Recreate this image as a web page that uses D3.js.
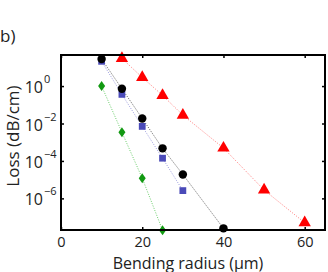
<!DOCTYPE html>
<html><head><meta charset="utf-8">
<script src="https://cdn.jsdelivr.net/npm/d3@7/dist/d3.min.js"></script>
<style>body{margin:0;background:#fff}svg{display:block}text{font-family:"Open Sans",sans-serif;fill:#222}</style>
</head><body><svg id="c" width="328" height="272"></svg>
<script>
const xTicks = [0, 20, 40, 60];
const yTicks = [-6, -4, -2, 0];
const blackX = [10, 15, 20, 25, 30, 40];
const blackY = [27.7, 0.72, 0.0187, 4.7e-4, 1.9e-5, 2.5e-8];
const blueX = [10, 15, 20, 25, 30];
const blueY = [21, 0.36, 7e-3, 1.4e-4, 2.6e-6];
const greenX = [10, 15, 20, 25];
const greenY = [1.0, 3.4e-3, 1.2e-5, 2e-8];
const redX = [15, 20, 25, 30, 40, 50, 60];
const redY = [30, 2.9, 0.32, 0.028, 4.9e-4, 2.8e-6, 5e-8];

const svg = d3.select("#c");
const L = 61, R = 325, T = 55, B = 230;
const x = d3.scaleLinear().domain([0, 65]).range([L, R]);
const y = d3.scaleLog().domain([Math.pow(10, -7.69), Math.pow(10, 1.66)]).range([B, T]);

const series = [
  {xs: redX, ys: redY, line: "#ff8080", fill: "#ff0000", shape: d3.symbolTriangle, size: 66},
  {xs: greenX, ys: greenY, line: "#66cc66", fill: "#119911", shape: "diamond", size: 0},
  {xs: blueX, ys: blueY, line: "#9999dd", fill: "#4a4ab8", shape: d3.symbolSquare, size: 46},
  {xs: blackX, ys: blackY, line: "#555555", fill: "#000000", shape: d3.symbolCircle, size: 56}
];

const plot = svg.append("g");
series.forEach(s => {
  const pts = s.xs.map((v, i) => [v, s.ys[i]]);
  plot.append("path").datum(pts)
    .attr("d", d3.line().x(d => x(d[0])).y(d => y(d[1])))
    .attr("fill", "none").attr("stroke", s.line).attr("stroke-width", 1)
    .attr("stroke-dasharray", "1,1.5");
});
series.forEach(s => {
  const pts = s.xs.map((v, i) => [v, s.ys[i]]);
  plot.selectAll(null).data(pts).enter().append("path")
    .attr("transform", d => `translate(${x(d[0])},${y(d[1])})`)
    .attr("d", s.shape === "diamond" ? "M0,-5L3.5,0L0,5L-3.5,0Z" : d3.symbol().type(s.shape).size(s.size)())
    .attr("fill", s.fill);
});

// axes box
const ax = svg.append("g");
const axB = d3.axisBottom(x).tickValues(xTicks).tickSize(-3).tickPadding(6.5).tickFormat(d3.format("d"));
const gB = ax.append("g").attr("transform", `translate(0,${B})`).call(axB);
const gT = ax.append("g").attr("transform", `translate(0,${T})`).call(d3.axisTop(x).tickValues(xTicks).tickSize(-3).tickFormat(""));
const yv = yTicks.map(e => Math.pow(10, e));
const gL = ax.append("g").attr("transform", `translate(${L},0)`).call(d3.axisLeft(y).tickValues(yv).tickSize(-3).tickFormat(""));
const gR = ax.append("g").attr("transform", `translate(${R},0)`).call(d3.axisRight(y).tickValues(yv).tickSize(-3).tickFormat(""));
[gB, gT, gL, gR].forEach(g => {
  g.select(".domain").remove();
  g.selectAll(".tick line").attr("stroke", "#000").attr("stroke-width", 1.5);
});
gB.selectAll(".tick text").attr("font-size", 14.5).attr("font-family", "Open Sans").attr("fill", "#222");
ax.append("rect").attr("x", L).attr("y", T).attr("width", R - L).attr("height", B - T)
  .attr("fill", "none").attr("stroke", "#000").attr("stroke-width", 2);

// y tick labels
yTicks.forEach(e => {
  svg.append("text").attr("x", 43).attr("y", y(Math.pow(10, e)) + 7)
    .attr("text-anchor", "end").attr("font-size", 16).text("10");
  svg.append("text").attr("x", 44).attr("y", y(Math.pow(10, e)) - 3)
    .attr("font-size", 11).text(String(e).replace("-", "\u2212"));
});

svg.append("text").attr("x", (L + R) / 2 - 5).attr("y", 268.5).attr("text-anchor", "middle")
  .attr("font-size", 16).text("Bending radius (\u03bcm)");
svg.append("text").attr("transform", "translate(19,136) rotate(-90)").attr("text-anchor", "middle")
  .attr("font-size", 17).text("Loss (dB/cm)");
svg.append("text").attr("x", 0).attr("y", 42).attr("font-size", 17).text("b)");
</script></body></html>
